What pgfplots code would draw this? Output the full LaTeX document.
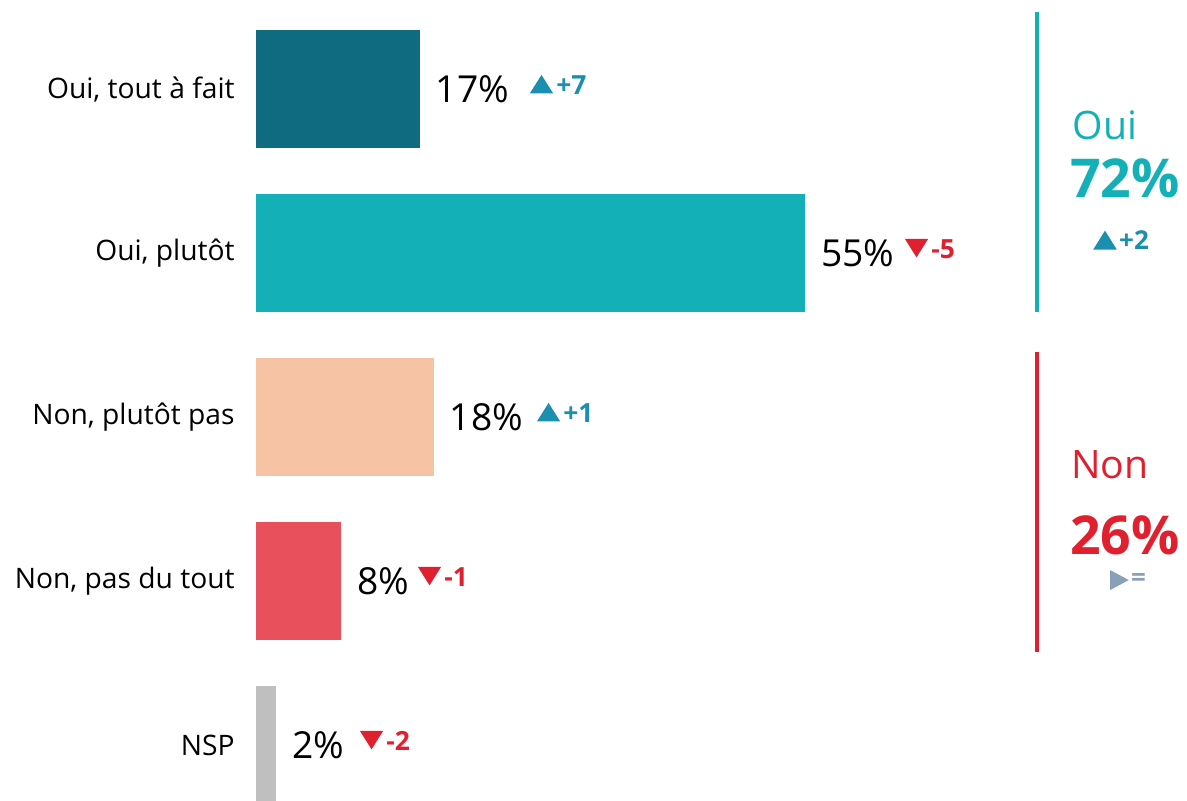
\documentclass[border=0pt]{standalone}
\usepackage{pgfplots}
\pgfplotsset{compat=1.18}
\usepackage{fontspec}
\setmainfont{Open Sans}
\definecolor{c1}{HTML}{0E6B80}
\definecolor{c2}{HTML}{14B0B8}
\definecolor{c3}{HTML}{F6C4A4}
\definecolor{c4}{HTML}{E8505B}
\definecolor{c5}{HTML}{BFBFBF}
\definecolor{up}{HTML}{1A8FAF}
\definecolor{dn}{HTML}{E0202E}
\definecolor{eq}{HTML}{8A9FB8}
% #1 name, #2 x, #3 y, #4 color, #5 text
\newcommand{\dlabel}[5]{\coordinate (#1) at (axis cs:#2,#3);
  \node[anchor=west,inner sep=0pt,text=#4,font=\fontsize{13.2}{14}\selectfont\bfseries] at (axis cs:#2,#3) [xshift=13pt,yshift=-0.3pt] {#5};}
\newcommand{\upTri}[1]{\fill[up] ([shift={(0pt,-4.6pt)}]#1) -- ++(11.6pt,0pt) -- ++(-5.8pt,9.2pt) -- cycle;}
\newcommand{\dnTri}[1]{\fill[dn] ([shift={(0pt,4.6pt)}]#1) -- ++(11.6pt,0pt) -- ++(-5.8pt,-9.2pt) -- cycle;}
\begin{document}
\begin{tikzpicture}
\begin{axis}[
  scale only axis, width=593.5pt, height=400pt,
  xmin=-25.65, xmax=93.3, ymin=-0.335, ymax=4.543,
  hide axis, clip=true,
  xbar, bar width=0.72, bar shift=0pt,
]
\addplot[draw=none, fill=c1] coordinates {(16.4,4)};
\addplot[draw=none, fill=c2] coordinates {(55,3)};
\addplot[draw=none, fill=c3] coordinates {(17.8,2)};
\addplot[draw=none, fill=c4] coordinates {(8.5,1)};
\addplot[draw=none, fill=c5] coordinates {(2,0)};
% category labels
\begin{scope}[every node/.style={anchor=east,inner sep=0pt,font=\fontsize{14.1}{16}\selectfont}]
\node at (axis cs:-2.1,4) {Oui, tout à fait};
\node at (axis cs:-2.1,3) {Oui, plutôt};
\node at (axis cs:-2.1,2) {Non, plutôt pas};
\node at (axis cs:-2.1,1) {Non, pas du tout};
\node at (axis cs:-2.1,0) {NSP};
\end{scope}
% value labels
\begin{scope}[every node/.style={anchor=west,inner sep=0pt,font=\fontsize{18.6}{22}\selectfont}]
\node at (axis cs:18.0,4) {17\%};
\node at (axis cs:56.6,3) {55\%};
\node at (axis cs:19.4,2) {18\%};
\node at (axis cs:10.1,1) {8\%};
\node at (axis cs:3.6,0) {2\%};
\end{scope}
\dlabel{d1}{27.45}{4.03}{up}{+7}
\dlabel{d2}{65.03}{3.03}{dn}{-5}
\dlabel{d3}{28.16}{2.03}{up}{+1}
\dlabel{d4}{16.23}{1.03}{dn}{-1}
\dlabel{d5}{10.42}{0.03}{dn}{-2}
% right summary
\draw[c2, line width=2.4pt] (axis cs:78.26,4.47) -- (axis cs:78.26,2.64);
\draw[dn, line width=2.4pt] (axis cs:78.26,2.396) -- (axis cs:78.26,0.567);
\node[text=c2,font=\fontsize{19.6}{22}\selectfont] at (axis cs:85.07,3.78) {Oui};
\node[text=c2,font=\fontsize{26.8}{30}\selectfont\bfseries] at (axis cs:87.07,3.457) {72\%};
\node[text=dn,font=\fontsize{19.6}{22}\selectfont] at (axis cs:85.57,1.707) {Non};
\node[text=dn,font=\fontsize{26.8}{30}\selectfont\bfseries] at (axis cs:87.07,1.28) {26\%};
\coordinate (s1) at (axis cs:83.9,3.079);
\node[anchor=west,inner sep=0pt,text=up,font=\fontsize{13}{14}\selectfont\bfseries] at (axis cs:83.9,3.079) [xshift=12.8pt] {+2};
\coordinate (s2) at (axis cs:85.6,1.006);
\node[anchor=west,inner sep=0pt,text=eq,font=\fontsize{13}{14}\selectfont\bfseries] at (axis cs:85.6,1.006) [xshift=10.3pt] {=};
\end{axis}
\upTri{d1}
\dnTri{d2}
\upTri{d3}
\dnTri{d4}
\dnTri{d5}
\fill[up] ([shift={(0pt,-4.75pt)}]s1) -- ++(11.8pt,0pt) -- ++(-5.9pt,9.5pt) -- cycle;
\fill[eq] ([shift={(0pt,-5pt)}]s2) -- ++(0pt,10pt) -- ++(9.3pt,-5pt) -- cycle;
\pgfresetboundingbox
\path[use as bounding box] (current axis.south west) rectangle (current axis.north east);
\end{tikzpicture}
\end{document}
